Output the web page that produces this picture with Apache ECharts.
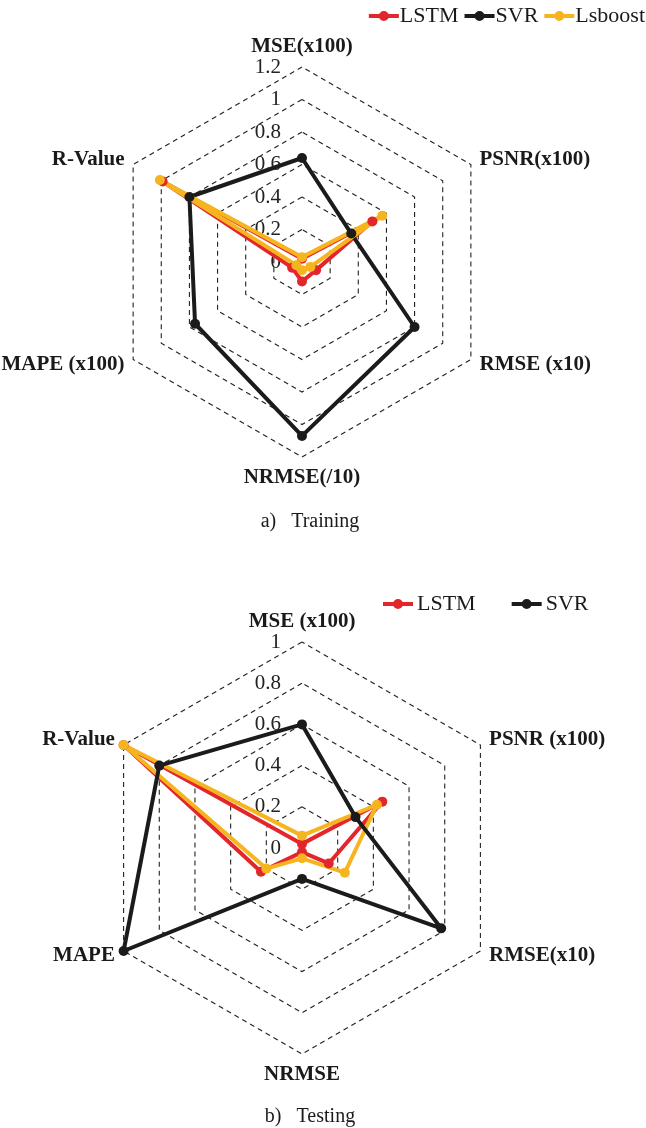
<!DOCTYPE html>
<html>
<head>
<meta charset="utf-8">
<script src="https://cdn.jsdelivr.net/npm/echarts@6/dist/echarts.min.js"></script>
<style>
  html, body { margin: 0; padding: 0; background: #fff; }
  #chart { width: 646px; height: 1128px; }
</style>
</head>
<body>
<div id="chart"></div>
<script>
// indicator order runs counter-clockwise from the top axis
const trainAxes = ["MSE(x100)", "R-Value", "MAPE (x100)", "NRMSE(/10)", "RMSE (x10)", "PSNR(x100)"];
const testAxes = ["MSE (x100)", "R-Value", "MAPE", "NRMSE", "RMSE(x10)", "PSNR (x100)"];
const trainMax = 1.2;
const testMax = 1;

const trainLSTM = [0.02, 0.99, 0.07, 0.12, 0.1, 0.5];
const trainSVR = [0.64, 0.8, 0.76, 1.07, 0.8, 0.35];
const trainLsboost = [0.03, 1.01, 0.04, 0.05, 0.06, 0.57];

const testLSTM = [0.02, 1.0, 0.23, 0.02, 0.15, 0.45];
const testSVR = [0.6, 0.8, 1.0, 0.15, 0.78, 0.3];
const testLsboost = [0.06, 1.0, 0.2, 0.05, 0.24, 0.42];

const colors = { LSTM: "#e3262c", SVR: "#1b1b1b", Lsboost: "#f6b41f" };
const serif = "Liberation Serif, Times New Roman, serif";
const legendIcon = "path://M0,3H30V7H0Z M10,5a5,5 0 1,1 10,0a5,5 0 1,1 -10,0Z";

function indicators(names, max) {
  return names.map((n, i) => ({
    name: n,
    min: 0,
    max: max,
    axisLabel: { show: i === 0 },
  }));
}

function radarBox(names, max, center, radius, split) {
  return {
    center: center,
    radius: radius,
    startAngle: 90,
    splitNumber: split,
    shape: "polygon",
    indicator: indicators(names, max),
    axisName: {
      color: "#1a1a1a",
      fontFamily: serif,
      fontWeight: "bold",
      fontSize: 21,
    },
    nameGap: 10,
    axisLine: { show: false },
    axisTick: { show: false },
    splitArea: { show: false },
    splitLine: { lineStyle: { color: "#222", width: 1.1, type: [5, 4] } },
    axisLabel: {
      show: false,
      color: "#222",
      fontFamily: serif,
      fontSize: 21,
      margin: 21,
      formatter: (v) => String(+(+v).toFixed(1)),
    },
  };
}

function item(name, values) {
  return {
    name: name,
    value: values,
    symbol: "circle",
    symbolSize: 10,
    itemStyle: { color: colors[name] },
    lineStyle: { color: colors[name], width: 4 },
  };
}

const chart = echarts.init(document.getElementById("chart"));
chart.setOption({
  animation: false,
  title: [
    {
      text: "a)   Training",
      left: 305,
      top: 507,
      textAlign: "center",
      textStyle: { fontFamily: serif, fontWeight: "normal", fontSize: 20, color: "#1a1a1a" },
    },
    {
      text: "b)   Testing",
      left: 305,
      top: 1102,
      textAlign: "center",
      textStyle: { fontFamily: serif, fontWeight: "normal", fontSize: 20, color: "#1a1a1a" },
    },
  ],
  legend: [
    {
      data: ["LSTM", "SVR", "Lsboost"],
      right: -4,
      top: 0,
      icon: legendIcon,
      itemWidth: 30,
      itemHeight: 10,
      itemGap: 6,
      textStyle: { fontFamily: serif, fontSize: 22, color: "#1a1a1a", padding: [0, 0, 0, -4] },
    },
    {
      data: ["LSTM", "SVR"],
      left: 378,
      top: 588,
      icon: legendIcon,
      itemWidth: 36,
      itemHeight: 10,
      itemGap: 36,
      textStyle: { fontFamily: serif, fontSize: 22, color: "#1a1a1a", padding: [0, 0, 0, -4] },
    },
  ],
  radar: [
    radarBox(trainAxes, trainMax, [302, 262], 195, 6),
    radarBox(testAxes, testMax, [302, 848], 206, 5),
  ],
  series: [
    {
      type: "radar",
      radarIndex: 0,
      data: [
        item("LSTM", trainLSTM),
        item("SVR", trainSVR),
        item("Lsboost", trainLsboost),
      ],
    },
    {
      type: "radar",
      radarIndex: 1,
      data: [
        item("LSTM", testLSTM),
        item("Lsboost", testLsboost),
        item("SVR", testSVR),
      ],
    },
  ],
});
</script>
</body>
</html>
